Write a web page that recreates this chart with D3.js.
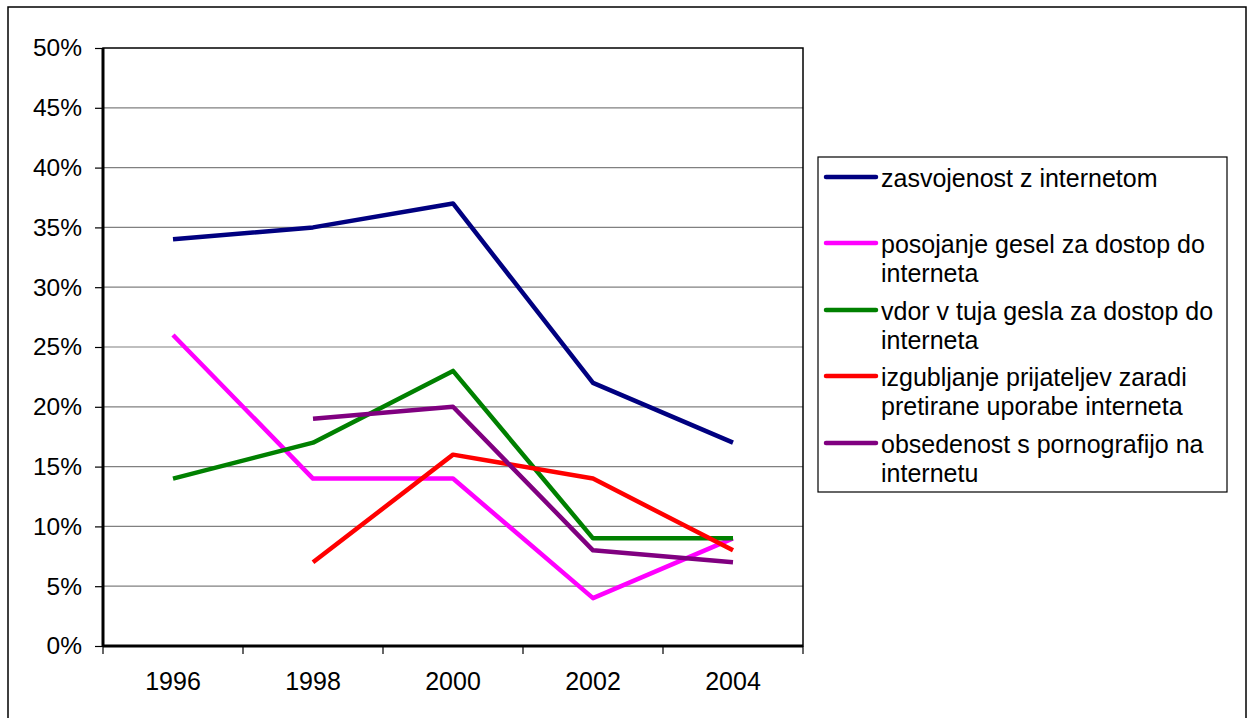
<!DOCTYPE html>
<html>
<head>
<meta charset="utf-8">
<script src="https://cdn.jsdelivr.net/npm/d3@7"></script>
<style>
  body { margin: 0; background: #fff; }
  text { font-family: "Liberation Sans", Arial, sans-serif; }
</style>
</head>
<body>
<svg id="chart" width="1248" height="718"></svg>
<script>
const years = ['1996', '1998', '2000', '2002', '2004']
const yTicks = [0, 5, 10, 15, 20, 25, 30, 35, 40, 45, 50]

const seriesNames = [
  ['zasvojenost z internetom'],
  ['posojanje gesel za dostop do', 'interneta'],
  ['vdor v tuja gesla za dostop do', 'interneta'],
  ['izgubljanje prijateljev zaradi', 'pretirane uporabe interneta'],
  ['obsedenost s pornografijo na', 'internetu']
]
const seriesColors = ['#000080', '#ff00ff', '#008000', '#ff0000', '#800080']

const zasvojenost = [34, 35, 37, 22, 17]
const posojanje = [26, 14, 14, 4, 9]
const vdor = [14, 17, 23, 9, 9]
const izgubljanje = [null, 7, 16, 14, 8]
const obsedenost = [null, 19, 20, 8, 7]
const seriesValues = [zasvojenost, posojanje, vdor, izgubljanje, obsedenost]

const svg = d3.select('#chart')

/* outer frame */
svg.append('rect')
  .attr('x', 8).attr('y', 7).attr('width', 1238).attr('height', 720)
  .attr('fill', 'none').attr('stroke', '#000').attr('stroke-width', 1.5)

const pLeft = 103, pRight = 803, pTop = 48, pBottom = 646

const x = d3.scaleBand().domain(years).range([pLeft, pRight])
const y = d3.scaleLinear().domain([0, 50]).range([pBottom, pTop])

/* gridlines */
svg.append('g')
  .selectAll('line')
  .data(yTicks.filter(d => d > 0 && d < 50))
  .join('line')
  .attr('x1', pLeft).attr('x2', pRight)
  .attr('y1', d => y(d)).attr('y2', d => y(d))
  .attr('stroke', '#808080').attr('stroke-width', 1.2)

/* y axis */
const yAxis = svg.append('g')
  .attr('transform', `translate(${pLeft},0)`)
  .call(d3.axisLeft(y).tickValues(yTicks).tickFormat(d => d + '%').tickSize(8).tickPadding(13))
yAxis.select('.domain').remove()
yAxis.selectAll('line').attr('stroke', '#000').attr('stroke-width', 1.2)
yAxis.selectAll('text').attr('font-size', 24.5).attr('fill', '#000')

/* x axis, ticks at category boundaries */
const xAxis = svg.append('g')
  .attr('transform', `translate(0,${pBottom})`)
  .call(d3.axisBottom(x).tickSize(0).tickPadding(26))
xAxis.select('.domain').remove()
xAxis.selectAll('text').attr('font-size', 25).attr('fill', '#000')
svg.append('g')
  .selectAll('line')
  .data(years.map(d => x(d)).concat([pRight]))
  .join('line')
  .attr('x1', d => d).attr('x2', d => d)
  .attr('y1', pBottom).attr('y2', pBottom + 8)
  .attr('stroke', '#000').attr('stroke-width', 1.2)

/* plot frame */
svg.append('rect')
  .attr('x', pLeft).attr('y', pTop).attr('width', pRight - pLeft).attr('height', pBottom - pTop)
  .attr('fill', 'none').attr('stroke', '#000').attr('stroke-width', 1.5)
svg.append('line')
  .attr('x1', pLeft).attr('x2', pLeft).attr('y1', pTop).attr('y2', pBottom)
  .attr('stroke', '#000').attr('stroke-width', 3)
svg.append('line')
  .attr('x1', pLeft).attr('x2', pRight).attr('y1', pBottom).attr('y2', pBottom)
  .attr('stroke', '#000').attr('stroke-width', 3)

/* lines */
const line = d3.line()
  .defined(d => d[1] != null)
  .x(d => x(d[0]) + x.bandwidth() / 2)
  .y(d => y(d[1]))

seriesValues.forEach((vals, i) => {
  svg.append('path')
    .datum(years.map((yr, j) => [yr, vals[j]]))
    .attr('d', line)
    .attr('fill', 'none')
    .attr('stroke', seriesColors[i])
    .attr('stroke-width', 4.5)
    .attr('stroke-linejoin', 'round')
})

/* legend */
const lg = svg.append('g')
lg.append('rect')
  .attr('x', 818).attr('y', 157).attr('width', 409).attr('height', 335)
  .attr('fill', '#fff').attr('stroke', '#000').attr('stroke-width', 1.2)

const rowY = [177, 243, 310, 376, 443]
seriesNames.forEach((lines, i) => {
  lg.append('line')
    .attr('x1', 826).attr('x2', 876)
    .attr('y1', rowY[i]).attr('y2', rowY[i])
    .attr('stroke', seriesColors[i]).attr('stroke-width', 4.5)
    .attr('stroke-linecap', 'round')
  lines.forEach((t, k) => {
    lg.append('text')
      .attr('x', 881).attr('y', rowY[i] + 10 + k * 29)
      .attr('font-size', 25).attr('fill', '#000')
      .text(t)
  })
})
</script>
</body>
</html>
